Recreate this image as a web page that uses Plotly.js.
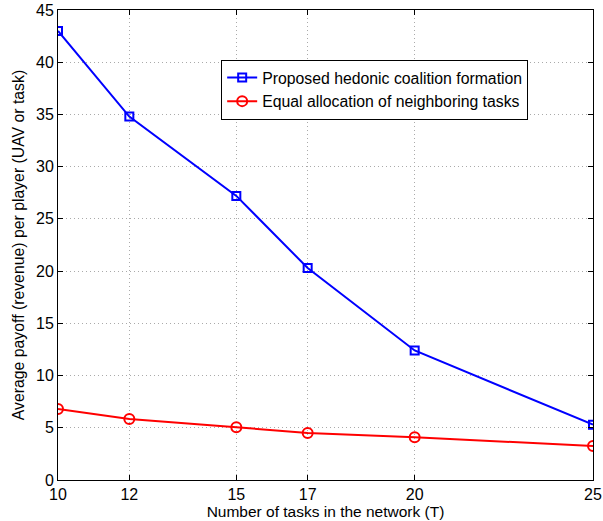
<!DOCTYPE html>
<html><head><meta charset="utf-8">
<script src="https://cdn.plot.ly/plotly-3.0.1.min.js"></script>
<style>html,body{margin:0;padding:0;background:#fff}#c{width:603px;height:521px}</style>
</head><body><div id="c"></div>
<script>
var tasks = [10, 12, 15, 17, 20, 25];
var hedonic = [43.0, 34.8, 27.2, 20.3, 12.4, 5.3];
var equalAlloc = [6.8, 5.85, 5.05, 4.5, 4.1, 3.25];
var yTicks = [0, 5, 10, 15, 20, 25, 30, 35, 40, 45];

var traces = [
  {x: tasks, y: hedonic, mode: 'lines+markers', name: 'Proposed hedonic coalition formation',
   line: {color: '#0000ff', width: 2},
   marker: {symbol: 'square-open', size: 8, color: '#0000ff', line: {width: 2}}},
  {x: tasks, y: equalAlloc, mode: 'lines+markers', name: 'Equal allocation of neighboring tasks',
   line: {color: '#ff0000', width: 2},
   marker: {symbol: 'circle-open', size: 10, color: '#ff0000', line: {width: 2}}}
];
var fam = 'Liberation Sans, Arial, sans-serif';
var layout = {
  width: 603, height: 521,
  margin: {l: 58, r: 10, t: 10, b: 41},
  paper_bgcolor: '#fff', plot_bgcolor: '#fff',
  font: {family: fam, size: 16, color: '#000'},
  showlegend: true,
  legend: {x: 0.305, y: 0.894, xanchor: 'left', yanchor: 'top', bgcolor: '#fff',
    bordercolor: '#000', borderwidth: 1, font: {family: fam, size: 15.8, color: '#000'},
    tracegroupgap: 0, itemwidth: 30, entrywidth: 308, entrywidthmode: 'pixels'},
  xaxis: {range: [10, 25], tickvals: tasks, ticktext: tasks.map(String),
    showline: true, mirror: 'ticks', linecolor: '#000', linewidth: 1,
    ticks: 'inside', ticklen: 5, tickcolor: '#000',
    tickfont: {family: fam, size: 16},
    showgrid: true, gridcolor: '#aaa', griddash: '1px,3px', gridwidth: 1, zeroline: false,
    title: {text: 'Number of tasks in the network (T)', font: {family: fam, size: 15.5}, standoff: 3}},
  yaxis: {range: [0, 45], tickvals: yTicks,
    showline: true, mirror: 'ticks', linecolor: '#000', linewidth: 1,
    ticks: 'inside', ticklen: 5, tickcolor: '#000',
    tickfont: {family: fam, size: 16},
    showgrid: true, gridcolor: '#aaa', griddash: '1px,3px', gridwidth: 1, zeroline: false,
    title: {text: 'Average payoff (revenue) per player (UAV or task)', font: {family: fam, size: 15.8}, standoff: 7}}
};
Plotly.newPlot('c', traces, layout, {displayModeBar: false, staticPlot: true});
</script></body></html>
